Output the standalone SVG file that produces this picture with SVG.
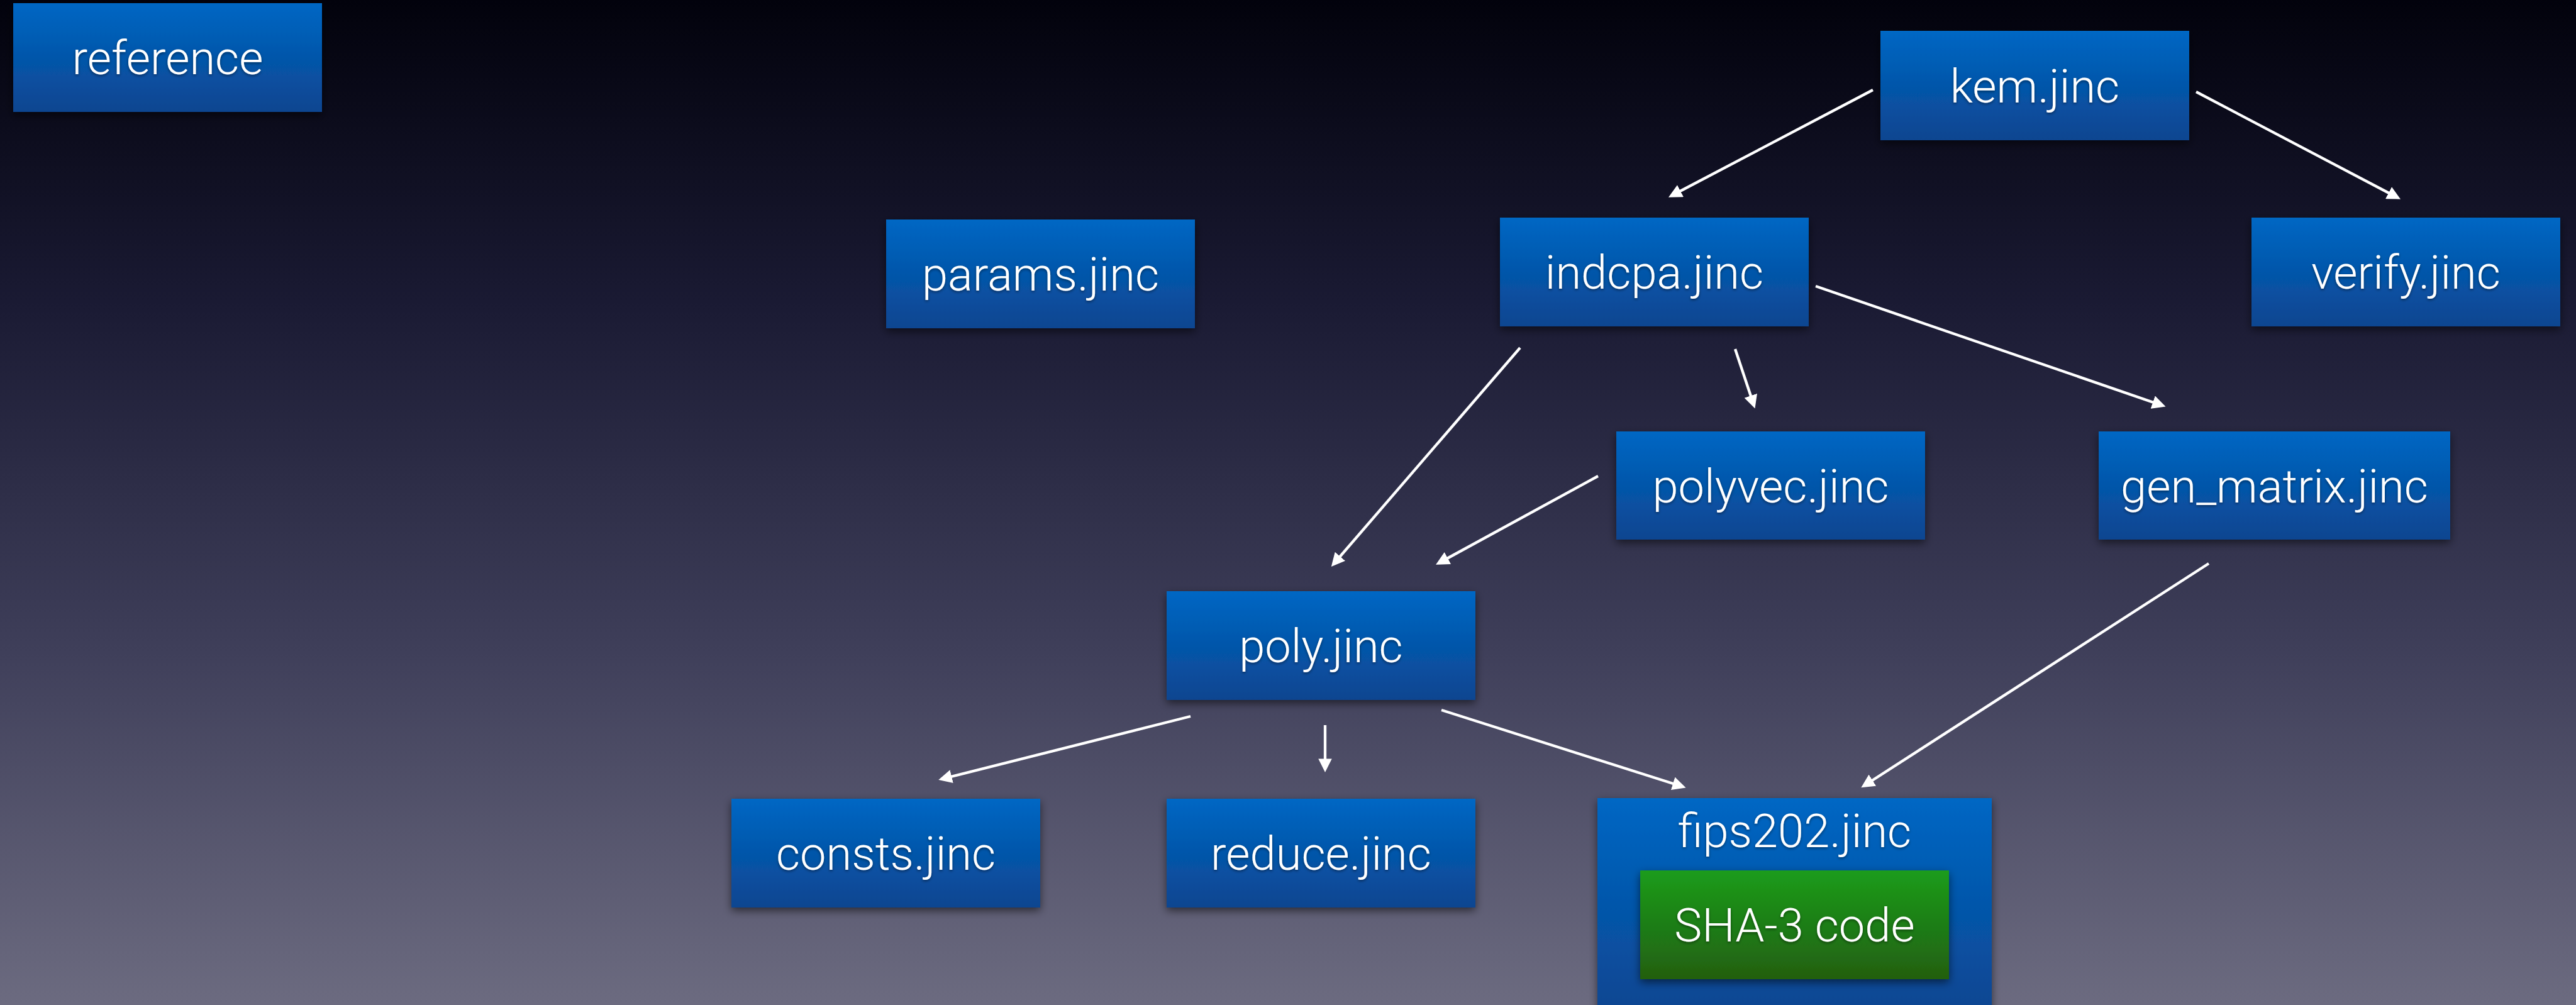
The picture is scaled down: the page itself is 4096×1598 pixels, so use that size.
<svg xmlns="http://www.w3.org/2000/svg" width="4096" height="1598" viewBox="0 0 4096 1598">
<defs>
<linearGradient id="bg" x1="0" y1="0" x2="0" y2="1">
<stop offset="0" stop-color="#02020c"/>
<stop offset="0.3" stop-color="#1a1a33"/>
<stop offset="0.65" stop-color="#3f3f5a"/>
<stop offset="1" stop-color="#6c6b80"/>
</linearGradient>
<linearGradient id="blue" x1="0" y1="0" x2="0" y2="1">
<stop offset="0" stop-color="#0167c4"/>
<stop offset="1" stop-color="#0a4590"/>
</linearGradient>
<linearGradient id="blueTall" x1="0" y1="0" x2="0" y2="1">
<stop offset="0" stop-color="#0167c4"/>
<stop offset="1" stop-color="#0a4590"/>
</linearGradient>
<linearGradient id="green" x1="0" y1="0" x2="0" y2="1">
<stop offset="0" stop-color="#1b9c1b"/>
<stop offset="1" stop-color="#225f10"/>
</linearGradient>
<filter id="shadow" x="-10%" y="-10%" width="120%" height="130%">
<feDropShadow dx="0" dy="5" stdDeviation="7" flood-color="#000" flood-opacity="0.55"/>
</filter>
<filter id="tshadow" x="-5%" y="-20%" width="110%" height="140%">
<feDropShadow dx="0" dy="2" stdDeviation="2" flood-color="#000" flood-opacity="0.45"/>
</filter>
<marker id="arrow" viewBox="0 0 10 10" refX="6.3" refY="5" markerWidth="5" markerHeight="5" orient="auto" markerUnits="strokeWidth">
<path d="M0,0 L10,5 L0,10 z" fill="#ffffff"/>
</marker>
</defs>
<style>
.box{fill:url(#blue);filter:url(#shadow);}
.gbox{fill:url(#green);filter:url(#shadow);}
.lbl{font-family:Roboto,"Liberation Sans",Arial,sans-serif;font-weight:300;font-size:74px;fill:#ffffff;text-anchor:middle;filter:url(#tshadow);}
.conn{stroke:#ffffff;stroke-width:4.3;fill:none;marker-end:url(#arrow);}
</style>
<rect x="0" y="0" width="4096" height="1598" fill="url(#bg)"/>

<g id="connectors">
<line class="conn" x1="2978" y1="143" x2="2660" y2="310"/>
<line class="conn" x1="3492" y1="146" x2="3810" y2="313"/>
<line class="conn" x1="2417" y1="553" x2="2122" y2="895"/>
<line class="conn" x1="2759" y1="555" x2="2788" y2="642"/>
<line class="conn" x1="2887" y1="455" x2="3436" y2="644"/>
<line class="conn" x1="2541" y1="757" x2="2290" y2="894"/>
<line class="conn" x1="3512" y1="896" x2="2966" y2="1248"/>
<line class="conn" x1="1893" y1="1139" x2="1500" y2="1238"/>
<line class="conn" x1="2107" y1="1153" x2="2107" y2="1220"/>
<line class="conn" x1="2292" y1="1129" x2="2673" y2="1250"/>
</g>

<g id="node-reference">
<rect class="box" x="21" y="5" width="491" height="173"/>
<text class="lbl" x="266.5" y="118">reference</text>
</g>
<g id="node-kem">
<rect class="box" x="2990" y="49" width="491" height="174"/>
<text class="lbl" x="3235.5" y="162.5">kem.jinc</text>
</g>
<g id="node-params">
<rect class="box" x="1409" y="349" width="491" height="173"/>
<text class="lbl" x="1654.5" y="462">params.jinc</text>
</g>
<g id="node-indcpa">
<rect class="box" x="2385" y="346" width="491" height="173"/>
<text class="lbl" x="2630.5" y="459">indcpa.jinc</text>
</g>
<g id="node-verify">
<rect class="box" x="3580" y="346" width="491" height="173"/>
<text class="lbl" x="3825.5" y="459">verify.jinc</text>
</g>
<g id="node-polyvec">
<rect class="box" x="2570" y="686" width="491" height="172"/>
<text class="lbl" x="2815.5" y="798.5">polyvec.jinc</text>
</g>
<g id="node-gen_matrix">
<rect class="box" x="3337" y="686" width="559" height="172"/>
<text class="lbl" x="3616.5" y="798.5">gen_matrix.jinc</text>
</g>
<g id="node-poly">
<rect class="box" x="1855" y="940" width="491" height="173"/>
<text class="lbl" x="2100.5" y="1053">poly.jinc</text>
</g>
<g id="node-consts">
<rect class="box" x="1163" y="1270" width="491" height="173"/>
<text class="lbl" x="1408.5" y="1383">consts.jinc</text>
</g>
<g id="node-reduce">
<rect class="box" x="1855" y="1270" width="491" height="173"/>
<text class="lbl" x="2100.5" y="1383">reduce.jinc</text>
</g>
<g id="node-fips202">
<rect class="box" x="2540" y="1269" width="627" height="345" style="fill:url(#blueTall)"/>
<text class="lbl" x="2853.5" y="1347">fips202.jinc</text>
<g id="node-sha3">
<rect class="gbox" x="2608" y="1384" width="491" height="173"/>
<text class="lbl" x="2853.5" y="1496.5">SHA-3 code</text>
</g>
</g>
</svg>
